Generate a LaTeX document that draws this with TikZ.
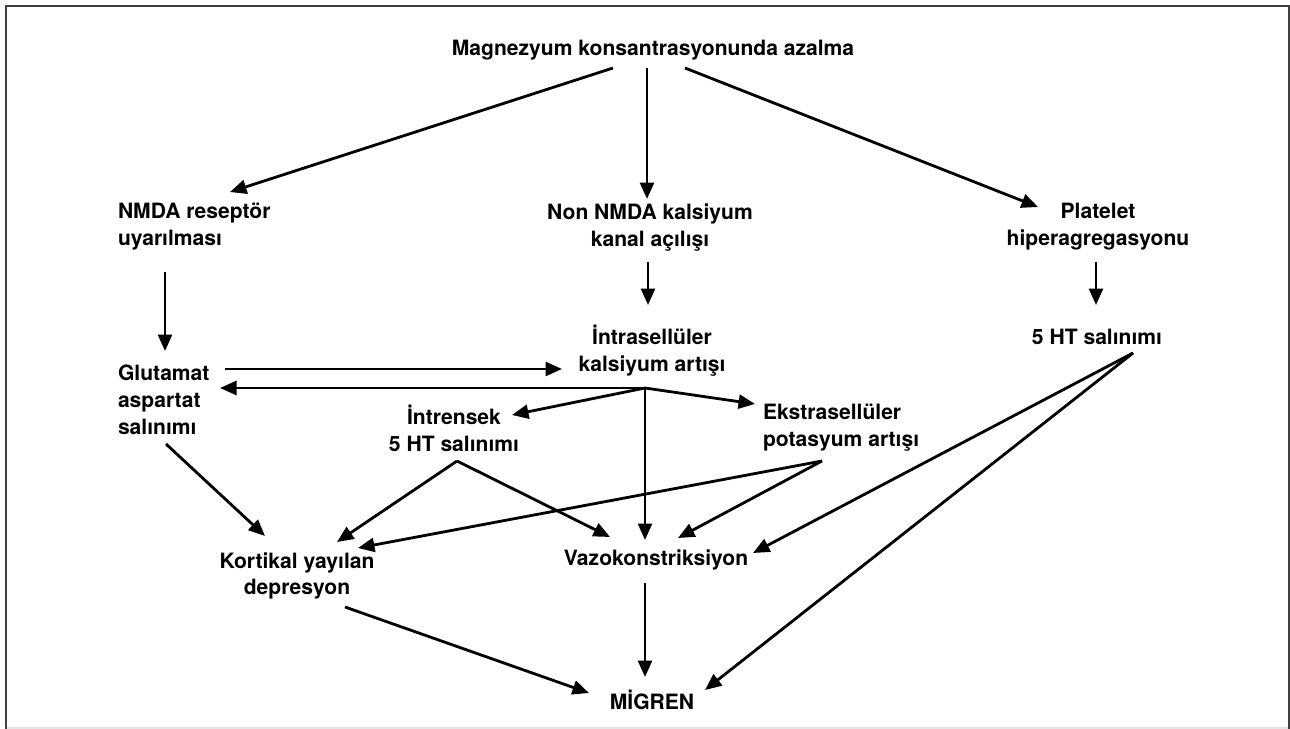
\documentclass[tikz,border=0pt]{standalone}
\usepackage{fontspec}
\setmainfont{TeX Gyre Heros}
\usetikzlibrary{arrows.meta}

\begin{document}
\begin{tikzpicture}[
    x=0.02cm, y=-0.02cm,
    txt/.style={font=\fontsize{12}{15.3}\selectfont\bfseries, align=center, inner sep=0pt, outer sep=0pt},
    txtleft/.style={txt, align=left, anchor=west},
    arrow/.style={-{Triangle[length=0.33cm, width=0.28cm]}, line width=1.6pt},
]
    % Frame
    \useasboundingbox (0,0) rectangle (1290,729);
    \draw[black!10, line width=1pt] (6,728) -- (1289,728);
    \draw[black!75, line width=1.1pt] (6,729) -- (6,6) -- (1289,6) -- (1289,729);

    % Top
    \node[txt] (title) at (653,50) {Magnezyum konsantrasyonunda azalma};

    % Row 1
    \node[txtleft] (nmda) at (118,227) {NMDA reseptör\\uyarılması};
    \node[txt] (nonnmda) at (650,228) {Non NMDA kalsiyum\\kanal açılışı};
    \node[txt] (platelet) at (1098,227) {Platelet\\hiperagregasyonu};

    % Row 2
    \node[txtleft] (glut) at (118,400) {Glutamat\\aspartat\\salınımı};
    \node[txt] (intra) at (652,351) {İntrasellüler\\kalsiyum artışı};
    \node[txt] (fiveht) at (1097,337) {5 HT salınımı};
    \node[txt] (intrensek) at (454,428) {İntrensek\\5 HT salınımı};
    \node[txtleft] (ekstra) at (763,428) {Ekstrasellüler\\potasyum artışı};

    % Row 3
    \node[txt] (kortikal) at (297,576) {Kortikal yayılan\\depresyon};
    \node[txt] (vazo) at (656,560) {Vazokonstriksiyon};

    % Result
    \node[txt] (migren) at (652,700) {MİGREN};

    % Branch points
    \coordinate (hub) at ([shift={(-7,37)}]intra.center);
    \coordinate (intrensekfoot) at ([shift={(3,33)}]intrensek.center);
    \coordinate (ekstrafoot) at ([shift={(59,33)}]ekstra.west);
    \coordinate (fivehtfoot) at ([shift={(36,16)}]fiveht.center);

    % Connections
    \draw[arrow] ([shift={(-40,18)}]title.center) -- ([shift={(112,-35)}]nmda.west);
    \draw[arrow] ([shift={(-6,18)}]title.center) -- ([shift={(-3,-29)}]nonnmda.center);
    \draw[arrow] ([shift={(32,18)}]title.center) -- ([shift={(-60,-20)}]platelet.center);

    \draw[arrow] ([shift={(47,45)}]nmda.west) -- ([shift={(47,-49)}]glut.west);
    \draw[arrow] ([shift={(-2,34)}]nonnmda.center) -- ([shift={(-4,-46)}]intra.center);
    \draw[arrow] ([shift={(-2,35)}]platelet.center) -- ([shift={(-1,-32)}]fiveht.center);

    \draw[arrow] ([shift={(107,-31)}]glut.west) -- ([shift={(-90,18)}]intra.center);
    \draw[arrow] (hub) -- ([shift={(102,-12)}]glut.west);
    \draw[arrow] (hub) -- ([shift={(58,-13)}]intrensek.center);
    \draw[arrow] (hub) -- ([shift={(-8,-24)}]ekstra.west);
    \draw[arrow] (hub) -- ([shift={(-11,-20)}]vazo.center);

    \draw[arrow] ([shift={(48,44)}]glut.west) -- ([shift={(-32,-40)}]kortikal.center);
    \draw[arrow] (intrensekfoot) -- ([shift={(40,-34)}]kortikal.center);
    \draw[arrow] (intrensekfoot) -- ([shift={(-46,-23)}]vazo.center);
    \draw[arrow] (ekstrafoot) -- ([shift={(61,-28)}]kortikal.center);
    \draw[arrow] (ekstrafoot) -- ([shift={(22,-22)}]vazo.center);
    \draw[arrow] (fivehtfoot) -- ([shift={(97,-7)}]vazo.center);

    \draw[arrow] ([shift={(48,31)}]kortikal.center) -- ([shift={(-63,-7)}]migren.center);
    \draw[arrow] ([shift={(-11,23)}]vazo.center) -- ([shift={(-7,-23)}]migren.center);
    \draw[arrow] (fivehtfoot) -- ([shift={(53,-10)}]migren.center);
\end{tikzpicture}
\end{document}
